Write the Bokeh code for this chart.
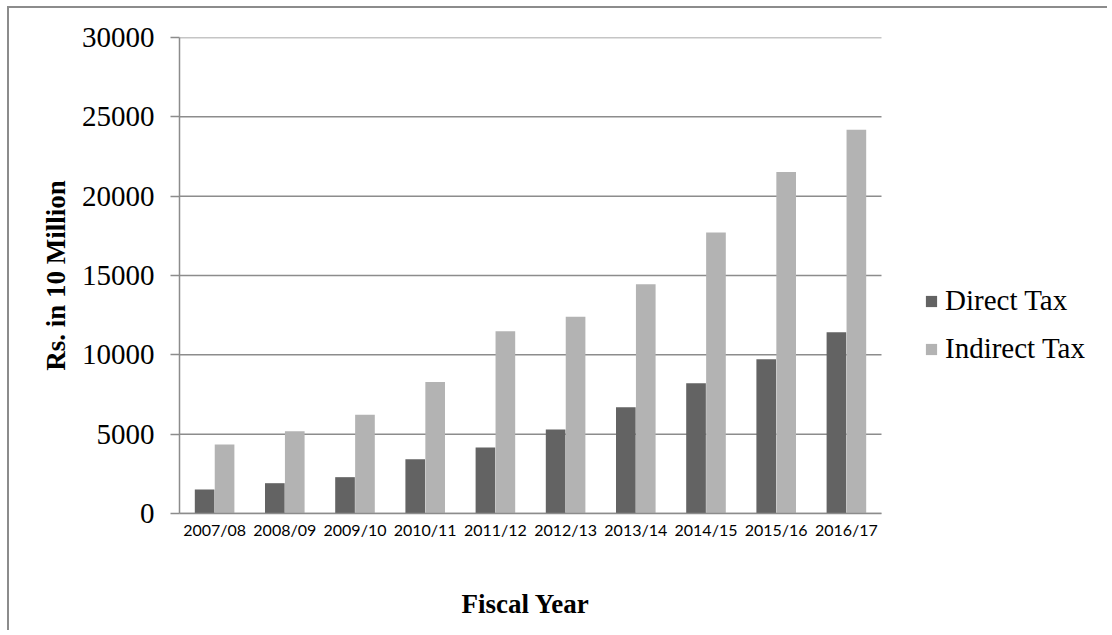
from bokeh.plotting import figure
from bokeh.models import (Range1d, FixedTicker, Legend, LegendItem, ColumnDataSource,
                          Title)
from bokeh.transform import dodge
from bokeh.embed import file_html
from bokeh.resources import INLINE

# Tax revenue by fiscal year (Rs. in 10 million)
years = ["2007/08", "2008/09", "2009/10", "2010/11", "2011/12",
         "2012/13", "2013/14", "2014/15", "2015/16", "2016/17"]
direct_tax = [1510, 1910, 2290, 3420, 4160, 5300, 6700, 8210, 9720, 11420]
indirect_tax = [4350, 5190, 6220, 8280, 11490, 12400, 14450, 17710, 21530, 24180]
y_ticks = [0, 5000, 10000, 15000, 20000, 25000, 30000]

n = len(years)
centers = [i + 0.5 for i in range(n)]   # one unit per fiscal year
source = ColumnDataSource(dict(pos=centers, year=years,
                               direct=direct_tax, indirect=indirect_tax))

GRID = "#8c8c8c"
SERIF = "Liberation Serif"

# the plotting frame also covers the legend area to the right of the bars
FRAME_W = 930
CAT_PX = 70.2
p = figure(x_range=Range1d(0, FRAME_W / CAT_PX), y_range=Range1d(0, 30000),
           width=1100, height=624,
           min_border_left=170, min_border_right=0,
           min_border_top=29, min_border_bottom=119,
           output_backend="svg", toolbar_location=None)

# chart-area frame: only its left and top edges are visible
p.styles = {"margin-left": "7px", "margin-top": "6px",
            "border-left": "2px solid #8c8c8c", "border-top": "2px solid #8c8c8c"}

p.outline_line_color = None
p.background_fill_color = "white"
p.border_fill_color = "white"
p.grid.grid_line_color = None

# horizontal gridlines spanning the category area only
p.segment(x0=0, x1=n, y0=y_ticks, y1=y_ticks, line_color=GRID,
          line_width=1.5, level="underlay")

bar_w = 0.28
r_direct = p.vbar(x=dodge("pos", -0.142), top="direct", width=bar_w,
                  source=source, fill_color="#636363", line_color=None)
r_indirect = p.vbar(x=dodge("pos", 0.142), top="indirect", width=bar_w,
                    source=source, fill_color="#b3b3b3", line_color=None)

# y axis
p.yaxis.ticker = FixedTicker(ticks=y_ticks)
p.yaxis.axis_line_color = GRID
p.yaxis.axis_line_width = 1.5
p.yaxis.major_tick_line_color = GRID
p.yaxis.major_tick_line_width = 1.5
p.yaxis.major_tick_out = 9
p.yaxis.major_tick_in = 0
p.yaxis.minor_tick_line_color = None
p.yaxis.major_label_text_font = SERIF
p.yaxis.major_label_text_font_size = "29px"
p.yaxis.major_label_text_color = "black"
p.yaxis.major_label_standoff = 16
p.yaxis.axis_label = "Rs. in 10 Million"
p.yaxis.axis_label_text_font = SERIF
p.yaxis.axis_label_text_font_style = "bold"
p.yaxis.axis_label_text_font_size = "27px"
p.yaxis.axis_label_text_color = "black"
p.yaxis.axis_label_standoff = 8

# x axis: fiscal-year labels at category centres, bounded to the bar area
p.xaxis.bounds = (0, n)
p.xaxis.ticker = FixedTicker(ticks=centers)
p.xaxis.major_label_overrides = {c: y for c, y in zip(centers, years)}
p.xaxis.axis_line_color = GRID
p.xaxis.axis_line_width = 1.5
p.xaxis.major_tick_line_color = None
p.xaxis.minor_tick_line_color = None
p.xaxis.major_label_text_font = "Lato"
p.xaxis.major_label_text_font_size = "16px"
p.xaxis.major_label_text_color = "black"
p.xaxis.major_label_standoff = 0

# gap between the year labels and the x-axis title
p.add_layout(Title(text=" ", text_font_size="1px", standoff=44), "below")
# x-axis title, centred under the bars rather than the whole frame
p.add_layout(Title(text="Fiscal Year", align="left", offset=282,
                   vertical_align="top", standoff=0,
                   text_font=SERIF, text_font_style="bold",
                   text_font_size="27px", text_color="black"), "below")

legend = Legend(items=[LegendItem(label="Direct Tax", renderers=[r_direct]),
                       LegendItem(label="Indirect Tax", renderers=[r_indirect])],
                location=(745, 148),
                border_line_color=None, background_fill_alpha=0,
                padding=0, margin=0, spacing=15,
                glyph_width=14, glyph_height=14, label_standoff=7,
                label_text_font=SERIF, label_text_font_size="29px",
                label_text_color="black")
p.add_layout(legend)

open("out.html", "w").write(file_html(p, INLINE))
